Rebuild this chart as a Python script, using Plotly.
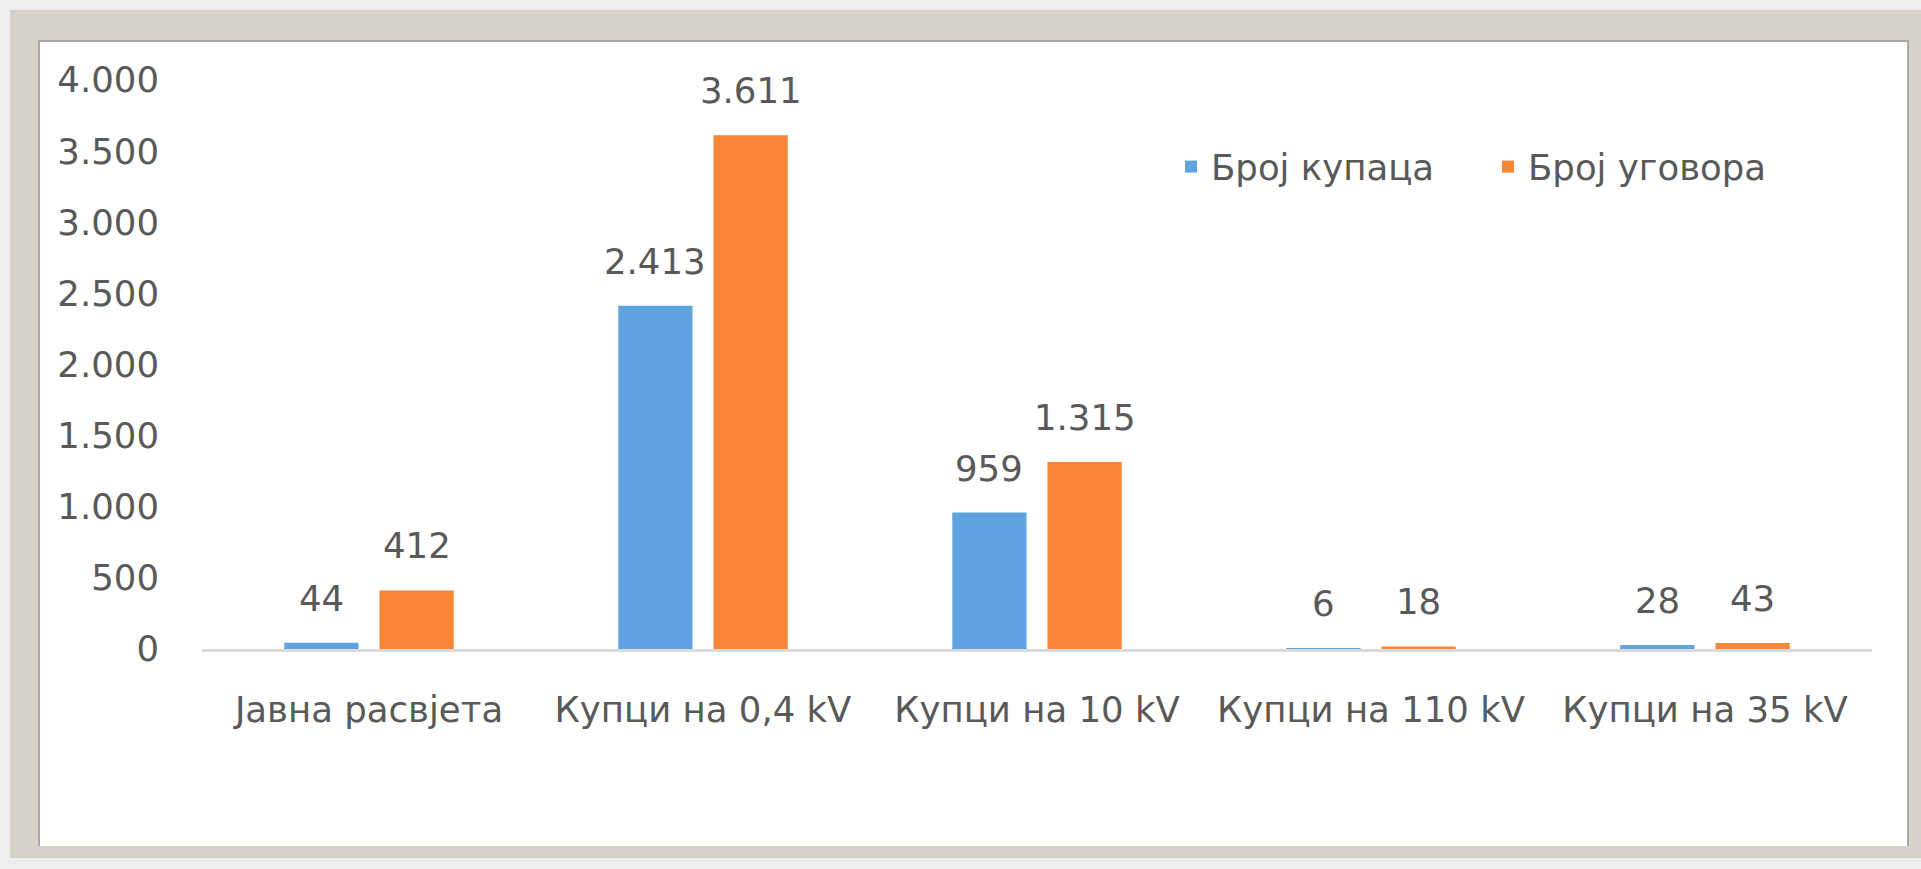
import plotly.graph_objects as go

# ---- data ----
categories = ["Јавна расвјета", "Купци на 0,4 kV", "Купци на 10 kV",
              "Купци на 110 kV", "Купци на 35 kV"]
series_names = ["Број купаца", "Број уговора"]
broj_kupaca = [44, 2413, 959, 6, 28]
broj_ugovora = [412, 3611, 1315, 18, 43]
y_tick_values = [0, 500, 1000, 1500, 2000, 2500, 3000, 3500, 4000]

# ---- style ----
W, H = 1921, 869
ML, MR, MT, MB = 202, 49, 80, 220
FONT = "DejaVu Sans"
FS = 35.5
TXT = "#595959"
BLUE = "#5fa3e0"
ORANGE = "#f98536"
BARGAP = 0.43
BARGROUPGAP = 0.22

plot_w = W - ML - MR
plot_h = H - MT - MB


def fmt(v):
    return f"{v:,}".replace(",", ".")


fig = go.Figure()
for name, vals, col in [(series_names[0], broj_kupaca, BLUE),
                        (series_names[1], broj_ugovora, ORANGE)]:
    fig.add_trace(go.Bar(x=categories, y=vals, name=name,
                         marker=dict(color=col, line=dict(width=0))))

# data labels above bars
cat_px = plot_w / len(categories)
slot_px = (1 - BARGAP) * cat_px / 2
annotations = []
for i, vals in enumerate([broj_kupaca, broj_ugovora]):
    shift = (i - 0.5) * slot_px
    for c, v in zip(categories, vals):
        annotations.append(dict(x=c, y=v, xref="x", yref="y", text=fmt(v),
                                showarrow=False, yanchor="bottom",
                                xshift=shift, yshift=22,
                                font=dict(family=FONT, size=FS, color=TXT)))


def px2x(px):
    return (px - ML) / plot_w


def py2y(py):
    return (H - MB - py) / plot_h


shapes = [
    # beige frame
    dict(type="rect", xref="paper", yref="paper", layer="below",
         x0=px2x(10), x1=px2x(1925), y0=py2y(858), y1=py2y(10),
         fillcolor="#d5d2ca", line=dict(width=0)),
    # white panel
    dict(type="rect", xref="paper", yref="paper", layer="below",
         x0=px2x(38), x1=px2x(1909), y0=py2y(846), y1=py2y(40),
         fillcolor="#ffffff", line=dict(width=0)),
    # bevel lines
    dict(type="line", xref="paper", yref="paper", layer="below",
         x0=px2x(38), x1=px2x(1909), y0=py2y(41), y1=py2y(41),
         line=dict(color="#a8a8a8", width=2)),
    dict(type="line", xref="paper", yref="paper", layer="below",
         x0=px2x(39), x1=px2x(39), y0=py2y(846), y1=py2y(40),
         line=dict(color="#a8a8a8", width=2)),
    dict(type="line", xref="paper", yref="paper", layer="below",
         x0=px2x(1908), x1=px2x(1908), y0=py2y(846), y1=py2y(40),
         line=dict(color="#a8a8a8", width=2)),
]

fig.update_layout(
    width=W, height=H,
    margin=dict(l=ML, r=MR, t=MT, b=MB, pad=0),
    paper_bgcolor="#eeeeee",
    plot_bgcolor="rgba(0,0,0,0)",
    separators=",.",
    font=dict(family=FONT, size=FS, color=TXT),
    barmode="group", bargap=BARGAP, bargroupgap=BARGROUPGAP,
    showlegend=True,
    legend=dict(orientation="h", x=px2x(1171), y=py2y(167),
                xanchor="left", yanchor="middle",
                entrywidth=272, entrywidthmode="pixels",
                bgcolor="rgba(0,0,0,0)",
                font=dict(family=FONT, size=FS, color=TXT)),
    xaxis=dict(showgrid=False, zeroline=False, showline=True,
               linecolor="#dadada", linewidth=3, ticks="",
               ticklabelstandoff=27,
               tickfont=dict(family=FONT, size=FS, color=TXT)),
    yaxis=dict(range=[0, 4000], tickvals=y_tick_values, tickformat=",d",
               showgrid=False, zeroline=False, showline=False, ticks="",
               ticklabelstandoff=42,
               tickfont=dict(family=FONT, size=FS, color=TXT)),
    annotations=annotations,
    shapes=shapes,
)

fig.write_html("out.html",
               config={"displayModeBar": False},
               post_script="document.body.style.margin='0';document.body.style.overflow='hidden';")
